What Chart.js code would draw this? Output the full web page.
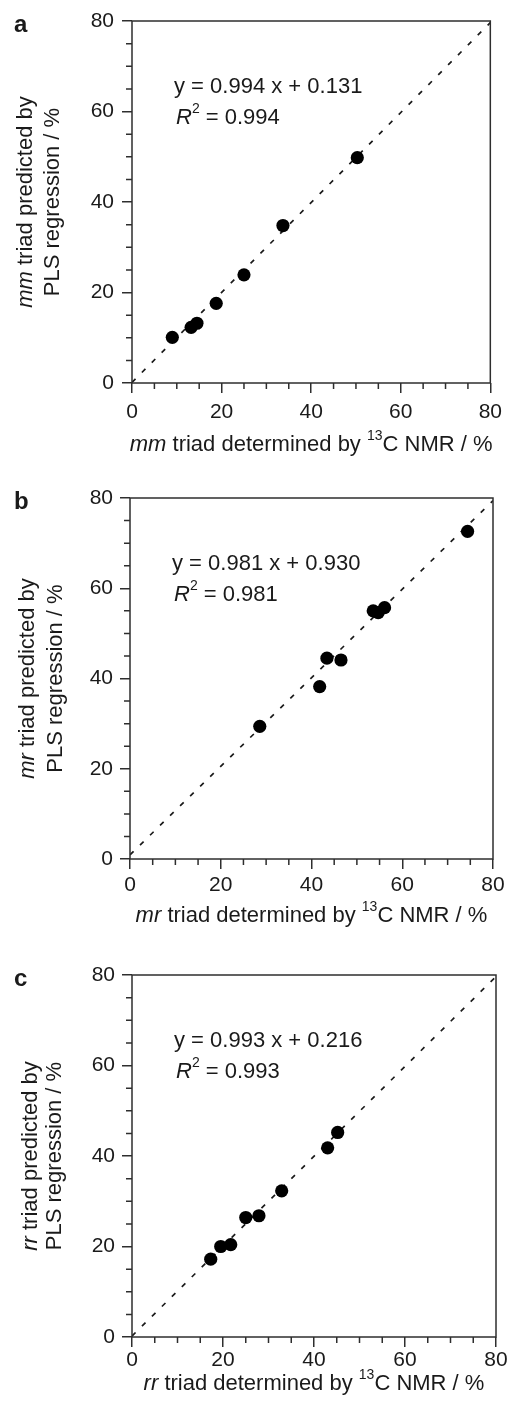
<!DOCTYPE html>
<html>
<head>
<meta charset="utf-8">
<script src="https://cdn.jsdelivr.net/npm/chart.js@4.4.1/dist/chart.umd.min.js"></script>
<style>
body { margin: 0; background: #fff; width: 509px; height: 1412px; position: relative; overflow: hidden; }
canvas { position: absolute; left: 0; }
</style>
</head>
<body>
<canvas id="chartA" width="509" height="477" style="top:0px"></canvas>
<canvas id="chartB" width="509" height="477" style="top:477px"></canvas>
<canvas id="chartC" width="509" height="458" style="top:954px"></canvas>
<script>
// x = triad from 13C NMR (%), y = triad predicted by PLS (%)
const mmNmr = [9.0, 13.2, 14.5, 18.8, 25.0, 33.7, 50.3];
const mmPls = [10.1, 12.3, 13.2, 17.6, 23.9, 34.8, 49.8];
const mrNmr = [28.6, 41.8, 43.4, 46.5, 53.6, 54.7, 56.1, 74.4];
const mrPls = [29.4, 38.2, 44.5, 44.1, 55.0, 54.6, 55.7, 72.6];
const rrNmr = [17.3, 19.5, 21.7, 25.0, 27.9, 32.9, 43.0, 45.2];
const rrPls = [17.2, 20.0, 20.4, 26.4, 26.8, 32.3, 41.8, 45.2];

const fitSlope = [0.994, 0.981, 0.993];
const fitIntercept = [0.131, 0.930, 0.216];
const fitR2 = ['0.994', '0.981', '0.993'];
const triads = ['mm', 'mr', 'rr'];
const panelLetters = ['a', 'b', 'c'];
const axisMin = 0, axisMax = 80, majorStep = 20, minorStep = 5;

const FONT = '"Liberation Sans", Arial, Helvetica, sans-serif';
const INK = '#1a1a1a';
const AXIS = '#2e2e2e';

// pixel placement for each panel (chart area and text offsets)
const layouts = [
    { h: 477, left: 132, right: 495, top: 21, bottom: 383, xLab: 27, xTitle: 62, yLab: 18, yT1: 26, yT2: 53 },
    { h: 477, left: 130, right: 493, top: 21, bottom: 382, xLab: 24, xTitle: 57, yLab: 17, yT1: 28, yT2: 56 },
    { h: 458, left: 132, right: 496, top: 21, bottom: 383, xLab: 21, xTitle: 47, yLab: 17, yT1: 31, yT2: 55 }
];

function fontFor(p, size) {
    let s = p.sup ? Math.round(size * 0.62) : size;
    return (p.italic ? 'italic ' : '') + (p.bold ? 'bold ' : '') + s + 'px ' + FONT;
}

function drawRich(ctx, parts, x, y, size, align) {
    let w = 0;
    parts.forEach(p => { ctx.font = fontFor(p, size); w += ctx.measureText(p.t).width; });
    let cx = align === 'center' ? x - w / 2 : x;
    ctx.textAlign = 'left';
    ctx.textBaseline = 'middle';
    parts.forEach(p => {
        ctx.font = fontFor(p, size);
        ctx.fillText(p.t, cx, p.sup ? y - size * 0.4 : y);
        cx += ctx.measureText(p.t).width;
    });
}

function makePanel(id, idx, xs, ys) {
    const L = layouts[idx];
    const tri = triads[idx];
    const points = [];
    for (let i = 0; i < xs.length; i++) {
        points.push({ x: xs[i], y: ys[i] });
    }
    const fit = [
        { x: axisMin, y: fitSlope[idx] * axisMin + fitIntercept[idx] },
        { x: axisMax, y: fitSlope[idx] * axisMax + fitIntercept[idx] }
    ];

    const decor = {
        id: 'decor' + idx,
        afterDraw(chart) {
            const ctx = chart.ctx;
            const a = chart.chartArea;
            const xs = chart.scales.x, ys = chart.scales.y;
            ctx.save();
            // frame
            ctx.strokeStyle = AXIS;
            ctx.lineWidth = 1.5;
            ctx.strokeRect(a.left, a.top, a.right - a.left, a.bottom - a.top);
            // minor ticks
            ctx.beginPath();
            for (let v = axisMin + minorStep; v < axisMax; v += minorStep) {
                if (v % majorStep === 0) continue;
                const px = xs.getPixelForValue(v);
                ctx.moveTo(px, a.bottom);
                ctx.lineTo(px, a.bottom + 6);
                const py = ys.getPixelForValue(v);
                ctx.moveTo(a.left, py);
                ctx.lineTo(a.left - 6, py);
            }
            ctx.stroke();

            ctx.fillStyle = INK;
            // panel letter
            drawRich(ctx, [{ t: panelLetters[idx], bold: true }], 14, a.top + 4, 24, 'left');
            // equation
            drawRich(ctx, [{ t: 'y = ' + fitSlope[idx].toFixed(3) + ' x + ' + fitIntercept[idx].toFixed(3) }],
                a.left + 42, a.top + 66, 22, 'left');
            drawRich(ctx, [{ t: 'R', italic: true }, { t: '2', sup: true }, { t: ' = ' + fitR2[idx] }],
                a.left + 44, a.top + 97, 22, 'left');
            // x title
            drawRich(ctx, [{ t: tri, italic: true }, { t: ' triad determined by ' }, { t: '13', sup: true }, { t: 'C NMR / %' }],
                (a.left + a.right) / 2, a.bottom + L.xTitle, 22, 'center');
            // y title
            ctx.save();
            ctx.translate(0, (a.top + a.bottom) / 2);
            ctx.rotate(-Math.PI / 2);
            drawRich(ctx, [{ t: tri, italic: true }, { t: ' triad predicted by' }], 0, L.yT1, 22, 'center');
            drawRich(ctx, [{ t: 'PLS regression / %' }], 0, L.yT2, 22, 'center');
            ctx.restore();
            ctx.restore();
        }
    };

    const axisCommon = {
        type: 'linear',
        min: axisMin,
        max: axisMax,
        border: { display: false },
        grid: { drawOnChartArea: false, drawTicks: true, tickLength: 10, color: AXIS, lineWidth: 1.5 },
        title: { display: false }
    };

    new Chart(document.getElementById(id), {
        type: 'scatter',
        data: {
            datasets: [
                {
                    data: points,
                    backgroundColor: '#000',
                    borderColor: '#000',
                    borderWidth: 0,
                    pointRadius: 6.6
                },
                {
                    type: 'line',
                    data: fit,
                    borderColor: INK,
                    borderWidth: 1.7,
                    borderDash: [5, 9],
                    pointRadius: 0,
                    fill: false
                }
            ]
        },
        options: {
            responsive: false,
            animation: false,
            events: [],
            layout: { padding: { top: L.top, right: 509 - L.right, left: 0, bottom: 0 } },
            plugins: { legend: { display: false }, tooltip: { enabled: false } },
            scales: {
                x: Object.assign({}, axisCommon, {
                    position: 'bottom',
                    ticks: { stepSize: majorStep, color: INK, font: { family: FONT, size: 21 }, padding: L.xLab - 20, maxRotation: 0 },
                    afterFit(s) { s.height = L.h - L.bottom; }
                }),
                y: Object.assign({}, axisCommon, {
                    position: 'left',
                    ticks: { stepSize: majorStep, color: INK, font: { family: FONT, size: 21 }, padding: L.yLab - 10 },
                    afterFit(s) { s.width = L.left; }
                })
            }
        },
        plugins: [decor]
    });
}

makePanel('chartA', 0, mmNmr, mmPls);
makePanel('chartB', 1, mrNmr, mrPls);
makePanel('chartC', 2, rrNmr, rrPls);
</script>
</body>
</html>
